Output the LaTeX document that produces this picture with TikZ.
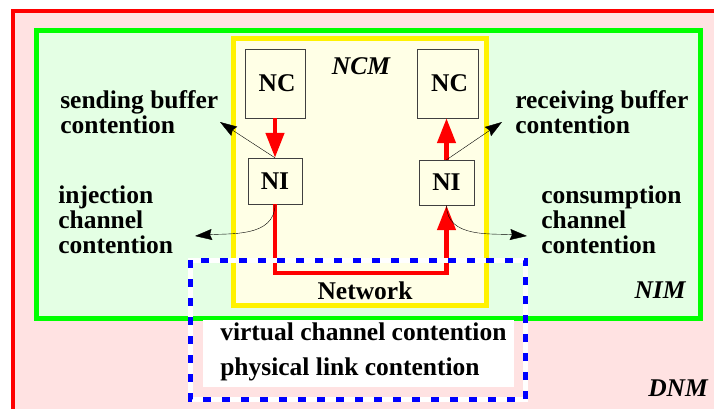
\documentclass[tikz,border=0pt]{standalone}
\usepackage{fontspec}
\setmainfont{Liberation Serif}
\usepackage{tikz}
\usetikzlibrary{arrows.meta,positioning}

\definecolor{dnmfill}{RGB}{255,226,226}
\definecolor{nimfill}{RGB}{228,255,228}
\definecolor{ncmfill}{RGB}{255,255,230}

\begin{document}
\begin{tikzpicture}[x=1pt, y=-1pt, semithick,
    every node/.style={font=\fontsize{25.5}{25}\selectfont\bfseries},
    unit/.style={draw=black!75, thin, fill=ncmfill, inner sep=0pt},
    flow/.style={red, line width=4.5pt, -{Triangle[length=25pt,width=18pt]}},
    hint/.style={black, thin, -{Stealth[length=17pt,width=11pt,inset=2pt]}},
    note/.style={align=left, anchor=west, inner sep=0pt}]
    \useasboundingbox (0,0) rectangle (714,408);
    \clip (0,0) rectangle (714,408);

    % nested models
    \draw[red, line width=4pt, fill=dnmfill] (13,10.5) rectangle (760,440);
    \draw[green, line width=5pt, fill=nimfill] (36,30) rectangle (700.5,318);
    \draw[yellow, line width=5pt, fill=ncmfill] (233.5,38.5) rectangle (486,305.5);
    \fill[white] (203,320) rectangle (514,387);

    \node at (361,66) {\itshape NCM};
    \node at (660,290) {\itshape NIM};
    \node at (678,388) {\itshape DNM};

    % cores and interfaces
    \node[unit, minimum width=60pt, minimum height=69pt, text depth=0pt] (ncL) at (275,83.5) {\hspace{4pt}NC};
    \node[unit, minimum width=54pt, minimum height=46pt] (niL) at (275,181) {NI};
    \node[unit, minimum width=61pt, minimum height=69pt, text depth=0pt] (ncR) at (447.5,83.5) {\hspace{4pt}NC};
    \node[unit, minimum width=55pt, minimum height=45pt] (niR) at (446.5,182.5) {NI};

    \draw[flow] (ncL.south) -- (niL.north);
    \draw[flow] (niR.north) -- (niR.north |- ncR.south);
    \draw[flow] (niL.south) -- ++(0,69) -| (niR.south);
    \node (net) at (365,291) {Network};

    % contention points
    \node[note] (sendbuf) at (60,112) {sending buffer\\contention};
    \node[note] (inject) at (58,220) {injection\\channel\\contention};
    \node[note] (recvbuf) at (515,112) {receiving buffer\\contention};
    \node[note] (consume) at (541,220) {consumption\\channel\\contention};
    \node[note] (vc) at (220,332) {virtual channel contention};
    \node[note] (pl) at (220,369) {physical link contention};

    \coordinate (sendtip) at (220,122);
    \coordinate (injtip) at (195,236);
    \coordinate (recvtip) at (502,122);
    \coordinate (constip) at (527,236);
    \draw[hint] (niL.north) -- (sendtip);
    \draw[hint] (niL.south) to[out=-90, in=5] (injtip);
    \draw[hint] (niR.north) -- (recvtip);
    \draw[hint] (niR.south) to[out=-90, in=175] (constip);

    % network region
    \draw[white, line width=5pt] (190.5,260) rectangle (525.5,399.5);
    \draw[blue, line width=5pt, dash pattern=on 8pt off 11pt] (190.5,260) rectangle (525.5,399.5);
\end{tikzpicture}
\end{document}
